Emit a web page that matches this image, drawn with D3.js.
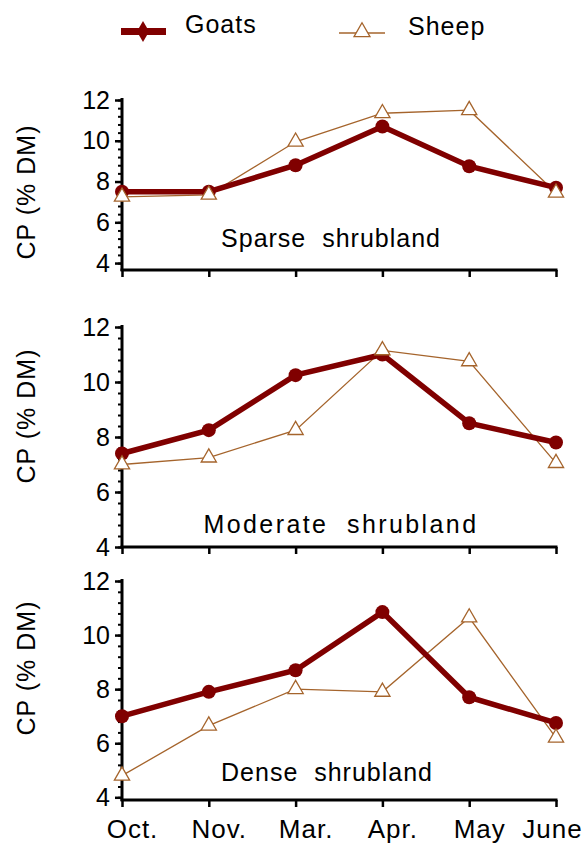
<!DOCTYPE html>
<html>
<head>
<meta charset="utf-8">
<script src="https://cdn.jsdelivr.net/npm/d3@7"></script>
<style>
  body { margin: 0; background: #fff; }
  text { font-family: "Liberation Sans", Arial, sans-serif; fill: #000; }
</style>
</head>
<body>
<svg id="chart" width="587" height="845"></svg>
<script>
// CP (% DM) of diets, goats vs sheep, by month and shrubland density
const months = ["Oct.", "Nov.", "Mar.", "Apr.", "May", "June"]
const yTicks = [4, 6, 8, 10, 12]
const panelNames = ["Sparse  shrubland", "Moderate  shrubland", "Dense  shrubland"]
const seriesNames = ["Goats", "Sheep"]

const goatsSparse = [7.5, 7.5, 8.8, 10.7, 8.75, 7.7]
const sheepSparse = [7.25, 7.35, 9.95, 11.35, 11.5, 7.45]
const goatsModerate = [7.4, 8.25, 10.25, 11.0, 8.5, 7.8]
const sheepModerate = [7.0, 7.25, 8.25, 11.15, 10.75, 7.05]
const goatsDense = [7.0, 7.9, 8.7, 10.85, 7.7, 6.75]
const sheepDense = [4.8, 6.65, 8.0, 7.9, 10.65, 6.2]

const goatColor = "#800000"
const sheepColor = "#a5642c"

const svg = d3.select("#chart")

// layout of the three stacked panels
let panels = [
  {name: panelNames[0], goats: goatsSparse, sheep: sheepSparse, top: 100, bottom: 270, yMin: 3.66, labelX: 331, labelY: 247, titleY: 192, spacing: 1},
  {name: panelNames[1], goats: goatsModerate, sheep: sheepModerate, top: 327, bottom: 547, yMin: 4, labelX: 341, labelY: 533, titleY: 416, spacing: 2.4},
  {name: panelNames[2], goats: goatsDense, sheep: sheepDense, top: 581, bottom: 800, yMin: 3.9, labelX: 327, labelY: 781, titleY: 668, spacing: 1}
]

let x = d3.scalePoint().domain(months).range([122, 556])

panels.forEach((p, i) => {
  let y = d3.scaleLinear().domain([p.yMin, 12]).range([p.bottom, p.top])
  let g = svg.append("g")

  // minor ticks
  let minor = d3.range(4, 12.01, 0.4).filter(v => v >= p.yMin)
  g.append("g")
    .attr("transform", "translate(122,0)")
    .call(d3.axisLeft(y).tickValues(minor).tickSize(4).tickFormat(""))
    .call(a => a.select(".domain").remove())
    .selectAll("line").attr("stroke", "#000").attr("stroke-width", 2)

  // y axis
  let yAxis = g.append("g")
    .attr("transform", "translate(122,0)")
    .call(d3.axisLeft(y).tickValues(yTicks).tickSize(7).tickPadding(5).tickSizeOuter(0))
  yAxis.select(".domain").attr("stroke", "#000").attr("stroke-width", 3)
    .attr("d", `M0,${p.top - 2}V${p.bottom + 1}`)
  yAxis.selectAll(".tick line").attr("stroke", "#000").attr("stroke-width", 2.5)
  yAxis.selectAll(".tick text").style("font-size", "25px").attr("fill", "#000")

  // x axis
  let xAxis = g.append("g")
    .attr("transform", `translate(0,${p.bottom})`)
    .call(d3.axisBottom(x).tickSize(7).tickSizeOuter(0).tickPadding(13))
  xAxis.select(".domain").attr("stroke", "#000").attr("stroke-width", 3)
    .attr("d", `M${x(months[0]) - 1.5},0H${x(months[5]) + 1.5}`)
  xAxis.selectAll(".tick line").attr("stroke", "#000").attr("stroke-width", 2.5)
  if (i < 2) {
    xAxis.selectAll(".tick text").remove()
  } else {
    xAxis.selectAll(".tick text")
      .style("font-size", "26px").style("letter-spacing", "1px")
      .attr("fill", "#000").attr("dx", 10)
    xAxis.select(".tick:last-of-type text").attr("dx", -4)
  }

  // y title
  svg.append("text")
    .attr("transform", `translate(35,${p.titleY}) rotate(-90)`)
    .attr("text-anchor", "middle")
    .style("font-size", "25px")
    .style("letter-spacing", "1px")
    .text("CP (% DM)")

  // panel label
  svg.append("text")
    .attr("x", p.labelX).attr("y", p.labelY)
    .attr("text-anchor", "middle")
    .style("font-size", "25px")
    .style("letter-spacing", p.spacing + "px")
    .style("white-space", "pre")
    .attr("xml:space", "preserve")
    .text(p.name)

  let line = d3.line().x((d, j) => x(months[j])).y(d => y(d))

  g.append("path").datum(p.sheep)
    .attr("d", line).attr("fill", "none")
    .attr("stroke", sheepColor).attr("stroke-width", 1.3)

  g.append("path").datum(p.goats)
    .attr("d", line).attr("fill", "none")
    .attr("stroke", goatColor).attr("stroke-width", 5.5)

  g.selectAll(".goat").data(p.goats).enter().append("circle")
    .attr("cx", (d, j) => x(months[j])).attr("cy", d => y(d))
    .attr("r", 7).attr("fill", goatColor)

  g.selectAll(".sheep").data(p.sheep).enter().append("path")
    .attr("transform", (d, j) => `translate(${x(months[j])},${y(d)})`)
    .attr("d", d3.symbol(d3.symbolTriangle, 100))
    .attr("fill", "#fff").attr("stroke", sheepColor).attr("stroke-width", 1.3)
})

// legend
let leg = svg.append("g")
leg.append("line").attr("x1", 121).attr("x2", 166).attr("y1", 31.5).attr("y2", 31.5)
  .attr("stroke", goatColor).attr("stroke-width", 7)
leg.append("path").attr("transform", "translate(143,31.5)")
  .attr("d", d3.symbol(d3.symbolDiamond, 130)).attr("fill", goatColor)
leg.append("text").attr("x", 185).attr("y", 33)
  .style("font-size", "25px").style("letter-spacing", "1px").text(seriesNames[0])

leg.append("line").attr("x1", 339).attr("x2", 385).attr("y1", 33).attr("y2", 33)
  .attr("stroke", sheepColor).attr("stroke-width", 1.3)
leg.append("path").attr("transform", "translate(362,32)")
  .attr("d", d3.symbol(d3.symbolTriangle, 110))
  .attr("fill", "#fff").attr("stroke", sheepColor).attr("stroke-width", 1.3)
leg.append("text").attr("x", 408).attr("y", 35)
  .style("font-size", "25px").style("letter-spacing", "1px").text(seriesNames[1])
</script>
</body>
</html>
